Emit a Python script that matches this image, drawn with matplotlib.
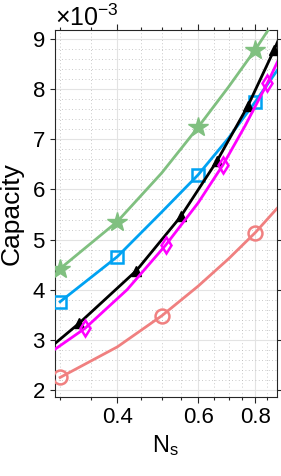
import numpy as np
import matplotlib
matplotlib.use("Agg")
import matplotlib.pyplot as plt
from matplotlib.ticker import NullFormatter, MultipleLocator

plt.rcParams.update({
    "font.family": ["Liberation Sans", "DejaVu Sans"],
    "mathtext.fontset": "custom",
    "mathtext.rm": "Liberation Sans",
    "mathtext.it": "Liberation Sans:italic",
})

# values, capacity in units of 1e-3
ns_red = [0.30, 0.40, 0.50, 0.60, 0.70, 0.80, 0.90]
cap_red = [2.25, 2.86, 3.48, 4.07, 4.62, 5.14, 5.66]
mk_red = [0, 2, 5]

ns_green = [0.30, 0.40, 0.50, 0.60, 0.70, 0.80, 0.90]
cap_green = [4.42, 5.36, 6.33, 7.24, 8.05, 8.79, 9.50]
mk_green = [0, 1, 3, 5]

ns_blue = [0.30, 0.40, 0.50, 0.60, 0.70, 0.80, 0.90]
cap_blue = [3.76, 4.66, 5.55, 6.29, 7.03, 7.75, 8.42]
mk_blue = [0, 1, 3, 5]

ns_black = [0.29, 0.33, 0.44, 0.55, 0.66, 0.77, 0.88, 0.90]
cap_black = [2.90, 3.33, 4.38, 5.46, 6.57, 7.66, 8.79, 9.00]
mk_black = [1, 2, 3, 4, 5, 6]

ns_mag = [0.29, 0.34, 0.42, 0.51, 0.60, 0.68, 0.76, 0.85, 0.90]
cap_mag = [2.79, 3.23, 4.00, 4.89, 5.73, 6.49, 7.27, 8.12, 8.60]
mk_mag = [1, 3, 5, 7]

SCALE = 1e-3

fig = plt.figure(figsize=(2.81, 4.76), dpi=100)
ax = fig.add_axes([0.196, 0.167, 0.789, 0.769])

LW = 2.0
ax.plot(ns_red, np.array(cap_red) * SCALE, color="#f08080", lw=LW, marker="o",
        ms=10, mfc="none", mew=1.8, markevery=mk_red, zorder=3)
ax.plot(ns_green, np.array(cap_green) * SCALE, color="#80c080", lw=LW, marker="*",
        ms=15, mfc="#80c080", mew=1.0, markevery=mk_green, zorder=3)
ax.plot(ns_blue, np.array(cap_blue) * SCALE, color="#00a2f2", lw=LW, marker="s",
        ms=8, mfc="none", mew=1.8, markevery=mk_blue, zorder=3)
ax.plot(ns_black, np.array(cap_black) * SCALE, color="black", lw=LW, marker="^",
        ms=6.5, mfc="black", mew=1.0, markevery=mk_black, zorder=4)
ax.plot(ns_mag, np.array(cap_mag) * SCALE, color="#ff00ff", lw=LW, marker="d",
        ms=8.5, mfc="none", mew=1.8, markevery=mk_mag, zorder=4)

ax.set_xscale("log")
ax.set_xlim(0.2925, 0.891)
ax.set_ylim(1.87e-3, 9.17e-3)

ax.set_xticks([0.4, 0.6, 0.8])
ax.set_xticklabels(["0.4", "0.6", "0.8"])
ax.set_xticks([0.3, 0.35, 0.45, 0.5, 0.55, 0.65, 0.7, 0.75, 0.85], minor=True)
ax.xaxis.set_minor_formatter(NullFormatter())

ax.set_yticks(np.arange(2, 10) * SCALE)
ax.yaxis.set_minor_locator(MultipleLocator(0.2e-3))
ax.ticklabel_format(axis="y", style="sci", scilimits=(0, 0), useMathText=True)
ax.yaxis.get_offset_text().set_fontsize(18)

ax.grid(which="major", color="#e3e3e3", lw=0.8, ls="-", zorder=0)
ax.grid(which="minor", color="#b8b8b8", lw=0.6, ls=(0, (1, 3)), zorder=0)
ax.set_axisbelow(True)

ax.tick_params(which="both", direction="out", top=True, right=True,
               labelsize=16, color="#262626", width=0.8)
ax.tick_params(axis="x", which="major", length=4)
ax.tick_params(axis="x", which="minor", length=2.5)
ax.tick_params(axis="y", which="major", length=3.5)
ax.tick_params(axis="y", which="minor", length=0)
for s in ax.spines.values():
    s.set_color("#262626")
    s.set_linewidth(0.8)

ax.set_xlabel(r"N$_\mathregular{s}$", fontsize=17, labelpad=4)
ax.set_ylabel("Capacity", fontsize=19, labelpad=6)

fig.savefig("out.png", dpi=100)
